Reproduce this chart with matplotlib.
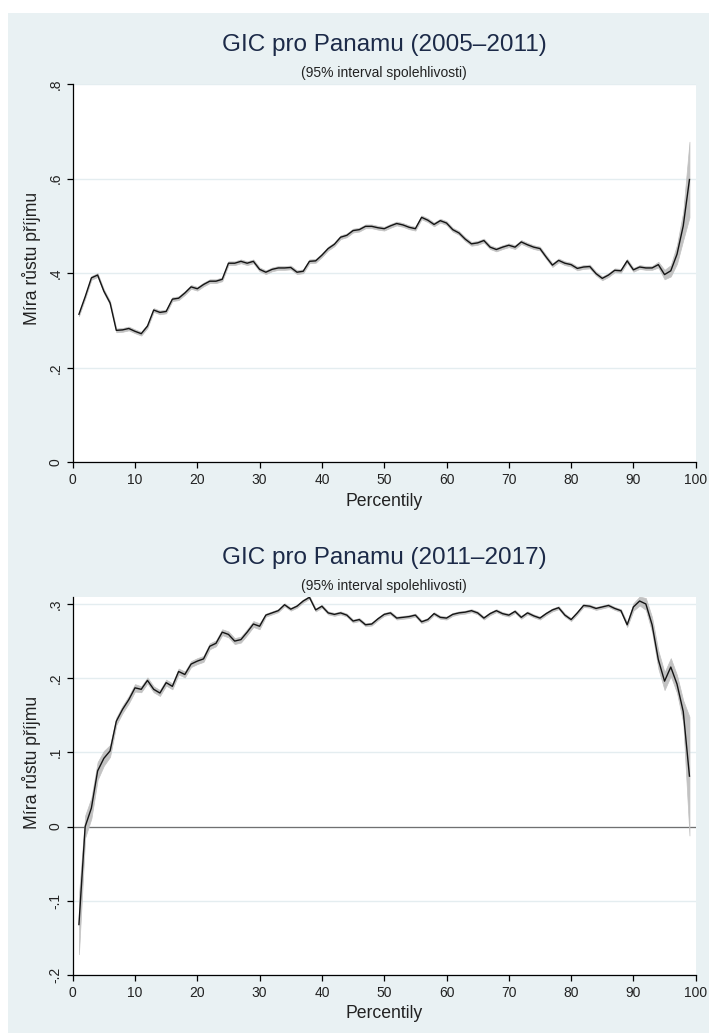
import numpy as np
import matplotlib
matplotlib.use("Agg")
import matplotlib.pyplot as plt
from matplotlib.patches import Rectangle

plt.rcParams['font.family'] = ['Liberation Sans', 'DejaVu Sans']

# ---------------------------------------------------------------- data
percentiles = list(range(1, 100))

# growth incidence 2005-2011 (percentiles 1..99)
gic_0511 = [
    0.313, 0.350, 0.390, 0.396, 0.362, 0.337, 0.279, 0.280, 0.283, 0.277,
    0.272, 0.288, 0.322, 0.317, 0.319, 0.345, 0.347, 0.358, 0.371, 0.367,
    0.376, 0.383, 0.383, 0.387, 0.421, 0.421, 0.425, 0.421, 0.425, 0.408,
    0.402, 0.408, 0.411, 0.411, 0.412, 0.402, 0.404, 0.425, 0.426, 0.438,
    0.452, 0.461, 0.476, 0.480, 0.490, 0.492, 0.499, 0.499, 0.496, 0.494,
    0.500, 0.505, 0.502, 0.497, 0.494, 0.518, 0.512, 0.503, 0.511, 0.506,
    0.492, 0.485, 0.472, 0.462, 0.464, 0.469, 0.455, 0.450, 0.455, 0.459,
    0.455, 0.466, 0.460, 0.455, 0.452, 0.434, 0.417, 0.427, 0.421, 0.418,
    0.410, 0.413, 0.414, 0.399, 0.389, 0.396, 0.406, 0.405, 0.426, 0.407,
    0.413, 0.411, 0.411, 0.418, 0.397, 0.405, 0.440, 0.500, 0.598,
]
ci_half_0511 = [0.004] * 93 + [0.006, 0.010, 0.012, 0.020, 0.030, 0.080]

# growth incidence 2011-2017 (percentiles 1..99)
gic_1117 = [
    -0.132, 0.000, 0.025, 0.075, 0.092, 0.102, 0.142, 0.158, 0.171, 0.187,
    0.185, 0.197, 0.185, 0.180, 0.194, 0.189, 0.209, 0.205, 0.219, 0.223,
    0.226, 0.243, 0.247, 0.262, 0.259, 0.250, 0.252, 0.262, 0.273, 0.270,
    0.285, 0.288, 0.291, 0.299, 0.293, 0.297, 0.304, 0.309, 0.292, 0.297,
    0.288, 0.286, 0.288, 0.285, 0.277, 0.279, 0.272, 0.273, 0.280, 0.286,
    0.288, 0.281, 0.282, 0.283, 0.285, 0.276, 0.279, 0.287, 0.282, 0.281,
    0.286, 0.288, 0.289, 0.291, 0.288, 0.281, 0.287, 0.291, 0.287, 0.285,
    0.290, 0.282, 0.288, 0.284, 0.281, 0.287, 0.292, 0.295, 0.285, 0.279,
    0.288, 0.298, 0.297, 0.294, 0.296, 0.298, 0.294, 0.291, 0.272, 0.296,
    0.304, 0.300, 0.272, 0.225, 0.196, 0.215, 0.192, 0.155, 0.068,
]
ci_half_1117 = ([0.040, 0.015, 0.014, 0.012, 0.010, 0.008, 0.005, 0.005, 0.005, 0.005]
                + [0.004] * 20 + [0.002] * 58
                + [0.003, 0.005, 0.006, 0.008, 0.010, 0.012, 0.012, 0.012, 0.012, 0.015, 0.080])

xticks = list(range(0, 101, 10))
xtick_labels = [str(t) for t in xticks]

yticks_0511 = [0.0, 0.2, 0.4, 0.6, 0.8]
ytick_labels_0511 = ["0", ".2", ".4", ".6", ".8"]
yticks_1117 = [-0.2, -0.1, 0.0, 0.1, 0.2, 0.3]
ytick_labels_1117 = ["-.2", "-.1", "0", ".1", ".2", ".3"]

titles = ["GIC pro Panamu (2005\u20132011)", "GIC pro Panamu (2011\u20132017)"]
subtitle = "(95% interval spolehlivosti)"
xlabel = "Percentily"
ylabel = "M\u00edra r\u016fstu p\u0159\u00edjmu"

# ---------------------------------------------------------------- style
W, H = 709, 1033
PANEL = "#e9f1f3"
GRID = "#e4edf0"
NAVY = "#1c2a48"
TXT = "#222222"
BAND = "#c2c2c2"

fig = plt.figure(figsize=(W / 100, H / 100), dpi=100)
fig.patch.set_facecolor("white")
fig.patches.append(Rectangle((8 / W, 0), 1 - 8 / W, (H - 13) / H,
                             transform=fig.transFigure, facecolor=PANEL,
                             edgecolor="none", zorder=-10))


def px_axes(left, top, right, bottom):
    return [left / W, 1 - bottom / H, (right - left) / W, (bottom - top) / H]


def draw_panel(ax, y, half, yticks, ylabels, ylim, title, title_y, xlabel_y,
               ylabel_pos, zero_line=False):
    x = np.array(percentiles)
    y = np.array(y)
    half = np.array(half)
    ax.set_facecolor("white")
    ax.set_xlim(0, 100)
    ax.set_ylim(*ylim)
    if zero_line:
        ax.axhline(0, color="#707070", lw=0.9, zorder=1)
    ax.fill_between(x, y - half, y + half, color=BAND, lw=0.5,
                    edgecolor=BAND, zorder=2)
    ax.plot(x, y, color="#141414", lw=1.0, zorder=3)

    ax.set_xticks(xticks)
    ax.set_xticklabels(xtick_labels, fontsize=10, color=TXT)
    ax.set_yticks(yticks)
    ax.set_yticklabels(ylabels, fontsize=10, color=TXT, rotation=90, va="center")
    ax.tick_params(axis="both", direction="out", length=4.5, width=0.9,
                   color="black")
    ax.tick_params(axis="x", pad=3.5)
    ax.tick_params(axis="y", pad=3.0)
    ax.grid(axis="y", color=GRID, lw=1.0)
    ax.grid(axis="x", visible=False)
    ax.set_axisbelow(True)
    for side in ("top", "right"):
        ax.spines[side].set_visible(False)
    for side in ("left", "bottom"):
        ax.spines[side].set_color("black")
        ax.spines[side].set_linewidth(0.9)

    cx = (72.7 + 695.7) / 2 / W
    fig.text(cx, 1 - title_y / H, title, ha="center", va="center",
             fontsize=17.5, color=NAVY)
    fig.text(cx, 1 - (title_y + 28) / H, subtitle, ha="center", va="center",
             fontsize=10, color=TXT)
    fig.text(cx, 1 - xlabel_y / H, xlabel, ha="center", va="center",
             fontsize=12.7, color=TXT)
    fig.text(31.7 / W, 1 - ylabel_pos / H, ylabel, ha="center", va="center",
             rotation=90, fontsize=12.7, color=TXT)


ax1 = fig.add_axes(px_axes(72.7, 84.0, 695.7, 462.3))
draw_panel(ax1, gic_0511, ci_half_0511, yticks_0511, ytick_labels_0511,
           (0, 0.8), titles[0], 45, 501.5, 258)

ax2 = fig.add_axes(px_axes(72.7, 597.3, 695.7, 975.0))
draw_panel(ax2, gic_1117, ci_half_1117, yticks_1117, ytick_labels_1117,
           (-0.2, 0.309), titles[1], 558, 1013, 762, zero_line=True)

fig.savefig("out.png", dpi=100, facecolor=fig.get_facecolor())
